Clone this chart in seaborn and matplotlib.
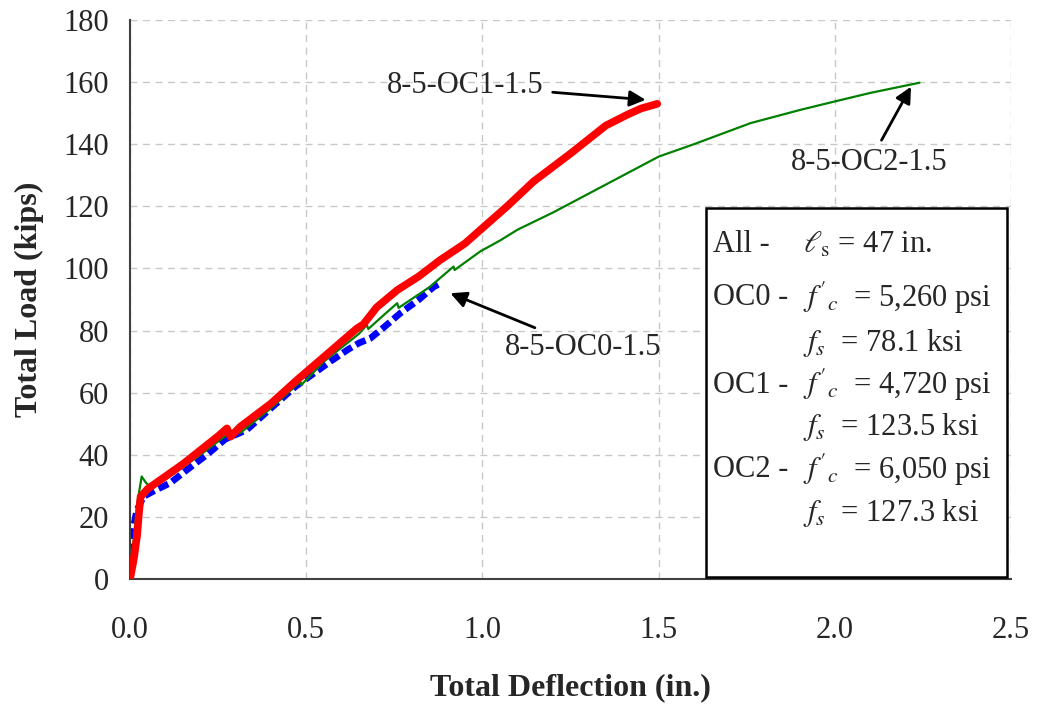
import numpy as np
import pandas as pd
import matplotlib
matplotlib.use("Agg")
import matplotlib.pyplot as plt
from matplotlib.patches import Rectangle
import seaborn as sns

# OC1 specimen (red, thick)
oc1_x = [0, 0.01, 0.02, 0.025, 0.03, 0.05, 0.1, 0.15, 0.2, 0.25, 0.275, 0.285, 0.3125,
         0.4, 0.473, 0.55, 0.644, 0.662, 0.7, 0.758, 0.82, 0.88, 0.95, 1.0, 1.07, 1.145,
         1.25, 1.35, 1.411, 1.45, 1.496]
oc1_y = [0, 6, 14, 21, 26.5, 29, 33, 37, 41.5, 46, 48.5, 45.8, 49,
         56.5, 64, 71.5, 80.7, 82, 87.5, 93, 97.5, 102.7, 108, 113, 120, 128,
         137, 146, 149.5, 151.5, 153]

# OC2 specimen (green, thin)
oc2_x = [0, 0.01, 0.02, 0.033, 0.045, 0.057, 0.1, 0.2, 0.27, 0.303, 0.3125, 0.4, 0.483,
         0.486, 0.55, 0.65, 0.672, 0.676, 0.72, 0.758, 0.762, 0.85, 0.918, 0.921, 0.994,
         1.05, 1.1, 1.2, 1.3, 1.4, 1.5, 1.6, 1.761, 1.9, 1.997, 2.1, 2.24]
oc2_y = [0, 12, 24, 33, 31, 29.7, 32, 40, 46, 48.5, 47, 55, 63.5,
         62.5, 70, 79, 81.8, 80.5, 85, 88.8, 87.3, 94, 100.6, 99.5, 105.5,
         109, 112.5, 118, 124, 130, 136, 140, 146.8, 151, 153.7, 156.5, 159.8]

# OC0 specimen (blue, dashed)
oc0_x = [0, 0.01, 0.019, 0.038, 0.07, 0.114, 0.16, 0.218, 0.27, 0.331, 0.4, 0.47,
         0.568, 0.62, 0.65, 0.682, 0.72, 0.767, 0.82, 0.862, 0.881]
oc0_y = [8, 17, 22, 26.5, 28.5, 30.9, 35, 40, 45, 48, 55, 62,
         70, 74, 76, 77.5, 81, 85.6, 90, 94.1, 95.2]

x_ticks = [0.0, 0.5, 1.0, 1.5, 2.0, 2.5]
y_ticks = list(range(0, 181, 20))

box_left = ["All -", "OC0 -", "", "OC1 -", "", "OC2 -", ""]
box_right = [
    r"$\ell_{\rm s}$ = 47 in.",
    r"$f'_{c}$  = 5,260 psi",
    r"$f_{s}$  = 78.1 ksi",
    r"$f'_{c}$  = 4,720 psi",
    r"$f_{s}$  = 123.5 ksi",
    r"$f'_{c}$  = 6,050 psi",
    r"$f_{s}$  = 127.3 ksi",
]

sns.set_style("white")
plt.rcParams["font.family"] = ["Liberation Serif", "DejaVu Serif"]
plt.rcParams["mathtext.fontset"] = "stix"

fig = plt.figure(figsize=(10.37, 7.04), dpi=100)
ax = fig.add_axes([0.1254, 0.1776, 0.8496, 0.794])

df1 = pd.DataFrame({"x": oc1_x, "y": oc1_y})
df2 = pd.DataFrame({"x": oc2_x, "y": oc2_y})
df0 = pd.DataFrame({"x": oc0_x, "y": oc0_y})

sns.lineplot(data=df2, x="x", y="y", sort=False, color="#008000", lw=1.6, ax=ax, zorder=3)
sns.lineplot(data=df0, x="x", y="y", sort=False, color="#0000ff", lw=4.8, ax=ax, zorder=2,
             linestyle=(0, (1.6, 0.7)))
sns.lineplot(data=df1, x="x", y="y", sort=False, color="#ff0000", lw=5.5, ax=ax, zorder=4,
             solid_capstyle="round")

ax.set_xlim(0, 2.5)
ax.set_ylim(0, 180)
ax.set_xticks(x_ticks)
ax.set_xticklabels([f"{t:.1f}" for t in x_ticks])
ax.set_yticks(y_ticks)
ax.grid(True, color="#c8c8c8", linestyle=(0, (5, 4)), lw=1)
ax.set_axisbelow(True)
for s in ["top", "right"]:
    ax.spines[s].set_visible(False)
for s in ["left", "bottom"]:
    ax.spines[s].set_color("#404040")
    ax.spines[s].set_linewidth(1.5)
ax.tick_params(axis="both", labelsize=22, length=6, width=1.2, color="#404040",
               direction="out")
ax.tick_params(axis="x", pad=21)
ax.tick_params(axis="y", pad=9)
ax.set_xlabel("Total Deflection (in.)", fontsize=23, fontweight="bold", labelpad=20)
ax.set_ylabel("Total Load (kips)", fontsize=23, fontweight="bold", labelpad=14)

arrow = dict(arrowstyle="-|>", color="black", lw=2, mutation_scale=24, shrinkA=4, shrinkB=0)
ax.annotate("8-5-OC1-1.5", xy=(1.463, 154.3), xytext=(0.952, 159), fontsize=22,
            ha="center", va="center", arrowprops=arrow)
ax.annotate("8-5-OC2-1.5", xy=(2.216, 158.5), xytext=(2.097, 134), fontsize=22,
            ha="center", va="center", arrowprops=arrow)
ax.annotate("8-5-OC0-1.5", xy=(0.909, 92), xytext=(1.287, 74.5), fontsize=22,
            ha="center", va="center", arrowprops=arrow)

ax.add_patch(Rectangle((0.654, 0.0036), 0.3415, 0.66, transform=ax.transAxes,
                       facecolor="white", edgecolor="black", lw=1.8, zorder=5))
line_y = [0.598, 0.503, 0.422, 0.347, 0.272, 0.195, 0.118]
for lt, rt, yy in zip(box_left, box_right, line_y):
    ax.text(0.662, yy, lt, transform=ax.transAxes, fontsize=22, va="center",
            ha="left", zorder=6)
    ax.text(0.764, yy, rt, transform=ax.transAxes, fontsize=22, va="center",
            ha="left", zorder=6)

fig.savefig("out.png", dpi=100)
